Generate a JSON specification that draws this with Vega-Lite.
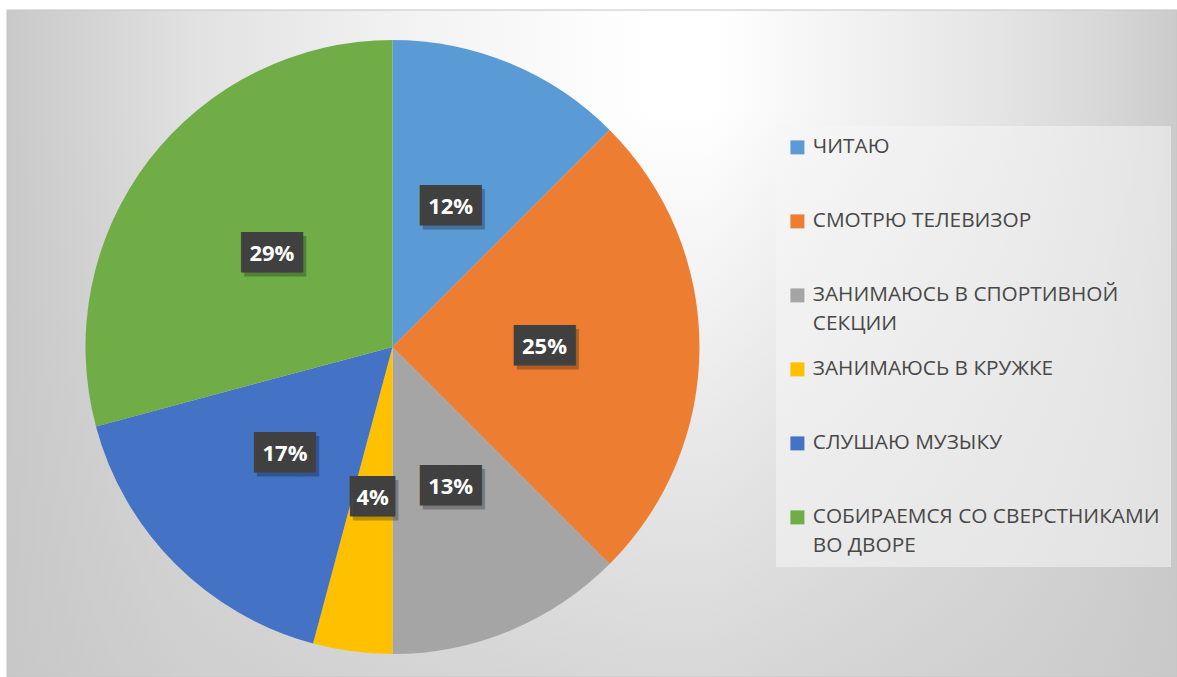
{
  "$schema": "https://vega.github.io/schema/vega-lite/v6.json",
  "width": 1170,
  "height": 667,
  "autosize": {"type": "none"},
  "padding": {"left": 7, "top": 10, "right": 0, "bottom": 0},
  "background": "white",
  "config": {"view": {"stroke": null}},
  "data": {
    "values": [
      {"category": "ЧИТАЮ", "count": 3, "label": "12%", "idx": 1},
      {"category": "СМОТРЮ ТЕЛЕВИЗОР", "count": 6, "label": "25%", "idx": 2},
      {"category": "ЗАНИМАЮСЬ В СПОРТИВНОЙ СЕКЦИИ", "count": 3, "label": "13%", "idx": 3},
      {"category": "ЗАНИМАЮСЬ В КРУЖКЕ", "count": 1, "label": "4%", "idx": 4},
      {"category": "СЛУШАЮ МУЗЫКУ", "count": 4, "label": "17%", "idx": 5},
      {"category": "СОБИРАЕМСЯ СО СВЕРСТНИКАМИ ВО ДВОРЕ", "count": 7, "label": "29%", "idx": 6}
    ]
  },
  "layer": [
    {
      "data": {"values": [{}]},
      "mark": {
        "type": "rect",
        "stroke": "#c4c4c4",
        "strokeWidth": 1,
        "fill": {
          "gradient": "linear", "x1": 0, "y1": 0, "x2": 1, "y2": 0,
          "stops": [
            {"offset": 0, "color": "#c9c9c9"},
            {"offset": 0.165, "color": "#e2e2e2"},
            {"offset": 0.35, "color": "#f3f3f3"},
            {"offset": 0.55, "color": "#ffffff"},
            {"offset": 0.6, "color": "#ffffff"},
            {"offset": 0.76, "color": "#eeeeee"},
            {"offset": 0.85, "color": "#e4e4e4"},
            {"offset": 0.934, "color": "#d8d8d8"},
            {"offset": 1, "color": "#cbcbcb"}
          ]
        }
      },
      "encoding": {}
    },
    {
      "data": {"values": [{}]},
      "mark": {
        "type": "rect",
        "fill": {
          "gradient": "linear", "x1": 0, "y1": 0, "x2": 0, "y2": 1,
          "stops": [
            {"offset": 0, "color": "rgba(199,199,199,0)"},
            {"offset": 0.15, "color": "rgba(199,199,199,0)"},
            {"offset": 1, "color": "rgba(199,199,199,0.7)"}
          ]
        }
      },
      "encoding": {}
    },
    {
      "mark": {"type": "arc", "x": 385.5, "y": 337, "outerRadius": 307},
      "encoding": {
        "theta": {"field": "count", "type": "quantitative", "stack": true},
        "order": {"field": "idx", "type": "quantitative"},
        "color": {
          "field": "category",
          "type": "nominal",
          "scale": {
            "domain": ["ЧИТАЮ", "СМОТРЮ ТЕЛЕВИЗОР", "ЗАНИМАЮСЬ В СПОРТИВНОЙ СЕКЦИИ", "ЗАНИМАЮСЬ В КРУЖКЕ", "СЛУШАЮ МУЗЫКУ", "СОБИРАЕМСЯ СО СВЕРСТНИКАМИ ВО ДВОРЕ"],
            "range": ["#5B9BD5", "#ED7D31", "#A5A5A5", "#FFC000", "#4472C4", "#70AD47"]
          },
          "legend": {
            "orient": "none",
            "legendX": 769,
            "legendY": 116,
            "title": null,
            "symbolType": "square",
            "symbolSize": 196,
            "symbolStrokeWidth": 0,
            "symbolOpacity": 1,
            "labelFont": "Open Sans",
            "labelFontSize": 20.8,
            "labelColor": "#484848",
            "labelLimit": 400,
            "labelOffset": 5,
            "rowPadding": 24,
            "padding": 11,
            "fillColor": "rgba(245,245,245,0.55)",
            "labelExpr": "datum.label == 'ЗАНИМАЮСЬ В СПОРТИВНОЙ СЕКЦИИ' ? ['ЗАНИМАЮСЬ В СПОРТИВНОЙ', 'СЕКЦИИ'] : datum.label == 'СОБИРАЕМСЯ СО СВЕРСТНИКАМИ ВО ДВОРЕ' ? ['СОБИРАЕМСЯ СО СВЕРСТНИКАМИ', 'ВО ДВОРЕ'] : [datum.label, '']",
            "encode": {
              "labels": {"update": {"lineHeight": {"value": 28.5}}}
            }
          }
        }
      }
    },
    {
      "mark": {"type": "text", "x": 385.5, "y": 337, "radius": 152, "dx": 3, "dy": 4, "font": "DejaVu Sans Mono", "fontSize": 34, "align": "center", "baseline": "middle", "fill": "#000000", "opacity": 0.25},
      "encoding": {
        "theta": {"field": "count", "type": "quantitative", "stack": true},
        "order": {"field": "idx", "type": "quantitative"},
        "detail": {"field": "category", "type": "nominal"},
        "text": {"condition": {"test": "datum.label === '4%'", "value": "▕██▏"}, "value": "███"}
      }
    },
    {
      "mark": {"type": "text", "x": 385.5, "y": 337, "radius": 152, "font": "DejaVu Sans Mono", "fontSize": 34, "align": "center", "baseline": "middle", "fill": "#404040"},
      "encoding": {
        "theta": {"field": "count", "type": "quantitative", "stack": true},
        "order": {"field": "idx", "type": "quantitative"},
        "detail": {"field": "category", "type": "nominal"},
        "text": {"condition": {"test": "datum.label === '4%'", "value": "▕██▏"}, "value": "███"}
      }
    },
    {
      "mark": {"type": "text", "x": 385.5, "y": 337, "radius": 152, "font": "Open Sans", "fontSize": 22, "fontWeight": "bold", "align": "center", "baseline": "middle", "fill": "#ffffff"},
      "encoding": {
        "theta": {"field": "count", "type": "quantitative", "stack": true},
        "order": {"field": "idx", "type": "quantitative"},
        "detail": {"field": "category", "type": "nominal"},
        "text": {"field": "label", "type": "nominal"}
      }
    }
  ]
}
